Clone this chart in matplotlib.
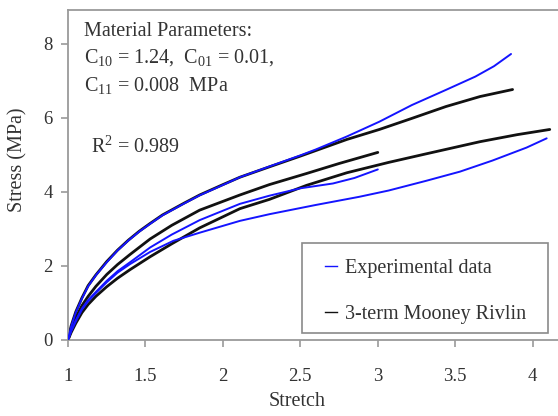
import matplotlib
matplotlib.use("Agg")
import matplotlib.pyplot as plt
from matplotlib.lines import Line2D
from matplotlib.patches import Rectangle

plt.rcParams['font.family'] = ['Liberation Serif', 'DejaVu Serif']
plt.rcParams['mathtext.fontset'] = 'custom'
plt.rcParams['mathtext.rm'] = 'Liberation Serif'
plt.rcParams['mathtext.it'] = 'Liberation Serif:italic'

# ---- data ----
exp1_x = [1.0, 1.02, 1.05, 1.09, 1.13, 1.18, 1.25, 1.32, 1.39, 1.46, 1.53, 1.61, 1.75, 1.85, 2.0, 2.11,
          2.3, 2.5, 2.6, 2.8, 3.01, 3.22, 3.44, 3.63, 3.75, 3.86]
exp1_y = [0.0, 0.36, 0.74, 1.12, 1.45, 1.75, 2.1, 2.42, 2.69, 2.93, 3.14, 3.37, 3.69, 3.91, 4.19, 4.4,
          4.69, 4.99, 5.15, 5.5, 5.9, 6.35, 6.76, 7.12, 7.4, 7.73]

exp2_x = [1.0, 1.02, 1.05, 1.09, 1.13, 1.18, 1.25, 1.32, 1.4, 1.53, 1.68, 1.85, 2.11, 2.3, 2.6, 2.88,
          3.07, 3.31, 3.53, 3.74, 3.96, 4.09]
exp2_y = [0.0, 0.23, 0.5, 0.82, 1.05, 1.27, 1.56, 1.82, 2.05, 2.38, 2.68, 2.9, 3.22, 3.4, 3.65, 3.87,
          4.04, 4.3, 4.55, 4.85, 5.2, 5.45]

exp3_x = [1.0, 1.02, 1.05, 1.09, 1.13, 1.18, 1.25, 1.32, 1.4, 1.53, 1.67, 1.85, 2.11, 2.3, 2.5, 2.71,
          2.85, 3.0]
exp3_y = [0.0, 0.25, 0.53, 0.85, 1.08, 1.3, 1.6, 1.86, 2.1, 2.5, 2.85, 3.24, 3.68, 3.9, 4.1, 4.23,
          4.38, 4.61]

fitA_x = [1.0, 1.02, 1.05, 1.09, 1.13, 1.18, 1.25, 1.32, 1.39, 1.46, 1.53, 1.61, 1.75, 1.85, 2.0, 2.11,
          2.3, 2.5, 2.6, 2.8, 3.01, 3.22, 3.44, 3.66, 3.87]
fitA_y = [0.0, 0.38, 0.76, 1.14, 1.47, 1.76, 2.12, 2.43, 2.70, 2.94, 3.15, 3.38, 3.7, 3.92, 4.2, 4.4,
          4.68, 4.97, 5.12, 5.42, 5.69, 5.99, 6.31, 6.58, 6.77]

fitB_x = [1.0, 1.02, 1.05, 1.09, 1.13, 1.18, 1.25, 1.32, 1.4, 1.53, 1.67, 1.85, 2.11, 2.3, 2.54, 2.8,
          3.07, 3.3, 3.66, 3.9, 4.11]
fitB_y = [0.0, 0.2, 0.45, 0.74, 0.96, 1.18, 1.44, 1.67, 1.9, 2.25, 2.6, 3.03, 3.55, 3.8, 4.18, 4.52,
          4.8, 5.02, 5.36, 5.55, 5.69]

fitC_x = [1.0, 1.02, 1.05, 1.09, 1.13, 1.18, 1.25, 1.32, 1.4, 1.53, 1.67, 1.85, 2.11, 2.3, 2.54, 2.75,
          3.0]
fitC_y = [0.0, 0.28, 0.6, 0.93, 1.18, 1.45, 1.77, 2.04, 2.31, 2.73, 3.1, 3.51, 3.92, 4.2, 4.5, 4.77,
          5.07]

x_ticks = [1, 1.5, 2, 2.5, 3, 3.5, 4]
x_ticklabels = ['1', '1.5', '2', '2.5', '3', '3.5', '4']
y_ticks = [0, 2, 4, 6, 8]

legend_labels = ['Experimental data', '3-term Mooney Rivlin']
param_text = ['Material Parameters:',
              r'C$_{10}$ = 1.24,  C$_{01}$ = 0.01,',
              r'C$_{11}$ = 0.008  MPa']
r2_text = r'R$^{2}$ = 0.989'

# ---- figure ----
W, H = 558, 416
fig = plt.figure(figsize=(W / 100, H / 100), dpi=100)
ax = fig.add_axes([68 / W, (H - 340) / H, (W - 68) / W, 330 / H])

blue = '#1414ff'
black = '#111111'
for xs, ys in [(fitA_x, fitA_y), (fitB_x, fitB_y), (fitC_x, fitC_y)]:
    ax.plot(xs, ys, color=black, lw=2.0, solid_capstyle='round', solid_joinstyle='round', zorder=2)
for xs, ys in [(exp1_x, exp1_y), (exp2_x, exp2_y), (exp3_x, exp3_y)]:
    ax.plot(xs, ys, color=blue, lw=1.4, solid_capstyle='round', solid_joinstyle='round', zorder=3)

ax.set_xlim(1, 1 + (W - 67.7) / 155)
ax.set_ylim(0, 330 / 37)
ax.set_xticks(x_ticks)
ax.set_xticklabels(x_ticklabels)
ax.set_yticks(y_ticks)

spine_c = '#9a9a9a'
for s in ['left', 'bottom', 'top']:
    ax.spines[s].set_color(spine_c)
    ax.spines[s].set_linewidth(1.3)
ax.spines['right'].set_visible(False)
ax.tick_params(axis='both', direction='out', length=5, width=1.2, color=spine_c,
               labelsize=13.5, labelcolor='#333333')
ax.tick_params(axis='x', pad=15)
ax.tick_params(axis='y', pad=6)

ax.set_xlabel('Stretch', fontsize=14.5, color='#333333', va='center')
ax.set_ylabel('Stress (MPa)', fontsize=14.5, color='#333333', va='center')
ax.xaxis.set_label_coords((297 - 68) / (W - 68), -(401 - 340) / 330)
ax.yaxis.set_label_coords(-(68 - 18) / (W - 68), (340 - 160) / 330)

# annotation texts
tx = 84
for i, t in enumerate(param_text):
    fig.text(tx / W, 1 - (31 + 27 * i) / H, t, fontsize=14.5, color='#333333', va='center', ha='left')
fig.text(91 / W, 1 - 147 / H, r2_text, fontsize=14.5, color='#333333', va='center', ha='left')

# legend: frame drawn separately so padding matches the reference box
fig.patches.append(Rectangle((302 / W, (H - 333) / H), (548 - 302) / W, (333 - 243) / H,
                             transform=fig.transFigure, fill=True, facecolor='white',
                             edgecolor='#8a8a8a', linewidth=1.2, zorder=5))
handles = [Line2D([], [], color=blue, lw=1.0), Line2D([], [], color=black, lw=1.0)]
leg = fig.legend(handles, legend_labels, loc='upper left',
                 bbox_to_anchor=(325 / W, 1 - 259 / H), bbox_transform=fig.transFigure,
                 borderaxespad=0, borderpad=0, fontsize=14.5, handlelength=0.6, handletextpad=0.4,
                 labelspacing=1.35, frameon=False)
leg.set_zorder(6)
for t in leg.get_texts():
    t.set_color('#333333')

fig.savefig('out.png', dpi=100)
